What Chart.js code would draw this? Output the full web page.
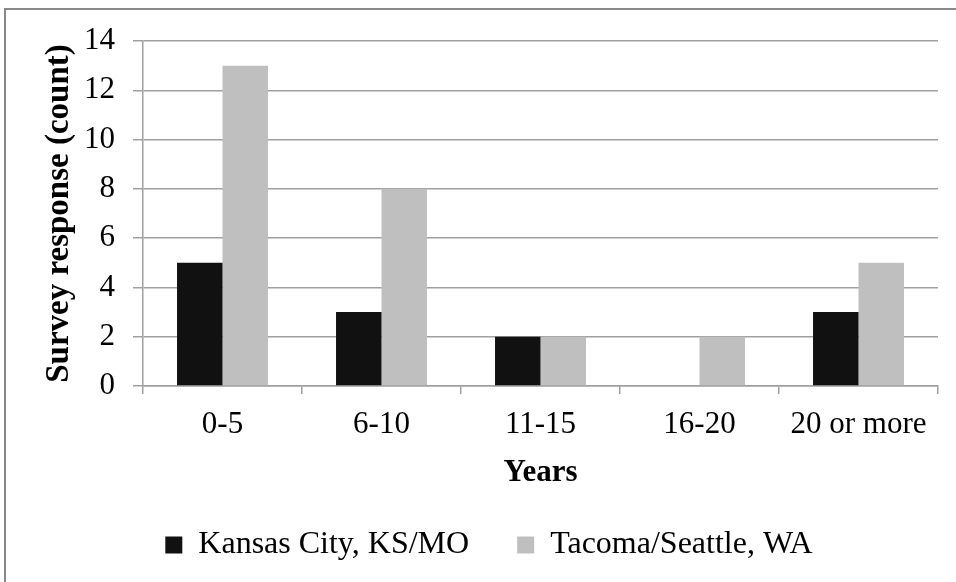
<!DOCTYPE html>
<html>
<head>
<meta charset="utf-8">
<script src="https://cdn.jsdelivr.net/npm/chart.js@4.4.0/dist/chart.umd.min.js"></script>
<style>
  html, body { margin: 0; padding: 0; background: #fff; }
  #wrap { position: relative; width: 956px; height: 582px; overflow: hidden; }
  #frame { position: absolute; left: 4px; top: 8px; width: 1000px; height: 700px;
           border-left: 2px solid #888; border-top: 2px solid #888; pointer-events: none; }
</style>
</head>
<body>
<div id="wrap">
  <canvas id="surveyChart" width="956" height="582"></canvas>
  <div id="frame"></div>
</div>
<script>
// data
const categories = ['0-5', '6-10', '11-15', '16-20', '20 or more'];
const kansasCity = [5, 3, 2, 0, 3];
const tacomaSeattle = [13, 8, 2, 2, 5];
const yTicks = [0, 2, 4, 6, 8, 10, 12, 14];

const SERIF = "'Liberation Serif', 'Times New Roman', serif";
const GRID = '#a0a0a0';

Chart.defaults.font.family = SERIF;
Chart.defaults.color = '#000';

new Chart(document.getElementById('surveyChart'), {
    type: 'bar',
    data: {
        labels: categories,
        datasets: [
            {
                label: 'Kansas City, KS/MO',
                data: kansasCity,
                backgroundColor: '#111111',
                categoryPercentage: 0.572,
                barPercentage: 1.0
            },
            {
                label: 'Tacoma/Seattle, WA',
                data: tacomaSeattle,
                backgroundColor: '#bfbfbf',
                categoryPercentage: 0.572,
                barPercentage: 1.0
            }
        ]
    },
    options: {
        responsive: false,
        animation: false,
        layout: { padding: { left: 40, top: 41, right: 18, bottom: 11 } },
        plugins: {
            tooltip: { enabled: false },
            legend: {
                position: 'bottom',
                labels: {
                    boxWidth: 17,
                    boxHeight: 17,
                    padding: 48,
                    color: '#000',
                    font: { size: 32 }
                }
            }
        },
        scales: {
            x: {
                grid: {
                    offset: true,
                    drawOnChartArea: false,
                    color: GRID,
                    lineWidth: 1.5,
                    tickLength: 8
                },
                border: { color: GRID, width: 1.5 },
                ticks: { font: { size: 31 }, padding: 12, maxRotation: 0 },
                title: {
                    display: true,
                    text: 'Years',
                    font: { size: 31, weight: 'bold', lineHeight: 0.5 },
                    padding: { top: 0, bottom: 0 }
                },
                afterFit: (scale) => { scale.height = 95; }
            },
            y: {
                min: 0,
                max: 14,
                afterBuildTicks: (scale) => { scale.ticks = yTicks.map(v => ({ value: v })); },
                grid: { color: GRID, lineWidth: 1.5, tickLength: 10 },
                border: { color: GRID, width: 1.5 },
                ticks: { font: { size: 31 }, padding: 18 },
                title: {
                    display: true,
                    text: 'Survey response (count)',
                    font: { size: 33, weight: 'bold', lineHeight: 1.2 },
                    padding: { top: 0, bottom: 0 }
                },
                afterFit: (scale) => { scale.width = 103; }
            }
        }
    }
});
</script>
</body>
</html>
